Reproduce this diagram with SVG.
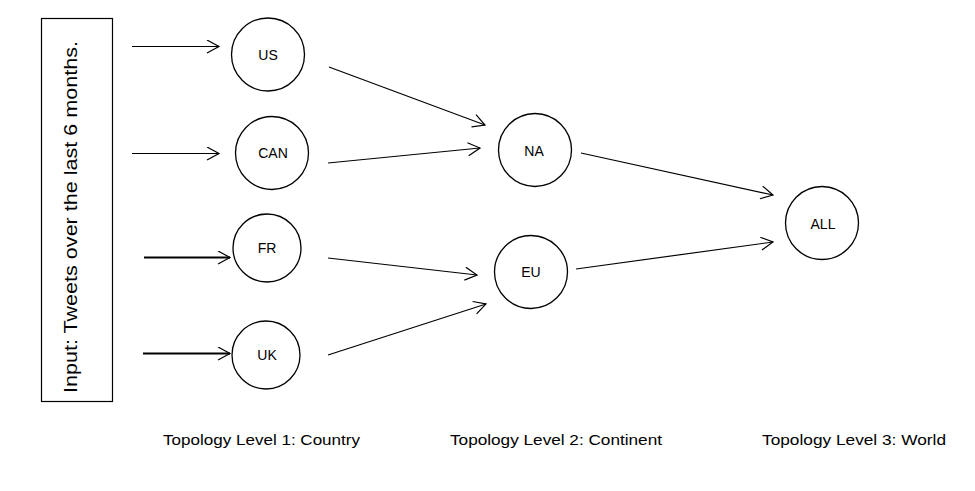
<svg xmlns="http://www.w3.org/2000/svg" width="975" height="491" viewBox="0 0 975 491">
<style>
.node{fill:#fff;stroke:#000;stroke-width:1.3}
.lbl{font-family:"Liberation Sans",Arial,sans-serif;font-size:14px;fill:#000;text-anchor:middle}
.cap{font-family:"Liberation Sans",Arial,sans-serif;font-size:15px;fill:#000}
.edge{stroke:#000;stroke-width:1.2;fill:none;marker-end:url(#arr)}
.thick{stroke-width:1.8}
</style>
<defs>
<marker id="arr" markerUnits="userSpaceOnUse" markerWidth="16" markerHeight="16" refX="13" refY="7" orient="auto">
<path d="M1,0.5 L13,7 L1,13.5" fill="none" stroke="#000" stroke-width="1.2"/>
</marker>
</defs>
<rect width="975" height="491" fill="#fff"/>
<g id="input">
<rect x="41.5" y="18.5" width="71" height="383" fill="#fff" stroke="#000" stroke-width="1.2"/>
<text transform="translate(77,393) rotate(-90)" font-family="Liberation Sans,Arial,sans-serif" font-size="19" textLength="352" lengthAdjust="spacingAndGlyphs">Input: Tweets over the last 6 months.</text>
</g>
<g id="connectors">
<line class="edge" x1="132" y1="46.5" x2="219" y2="46.5"/>
<line class="edge" x1="132" y1="153.5" x2="219" y2="153.5"/>
<line class="edge thick" x1="144" y1="257.5" x2="230" y2="257.5"/>
<line class="edge thick" x1="143" y1="353.5" x2="230" y2="353.5"/>
<line class="edge" x1="329" y1="67" x2="485" y2="125"/>
<line class="edge" x1="328" y1="163" x2="480" y2="148"/>
<line class="edge" x1="328" y1="258" x2="477" y2="275"/>
<line class="edge" x1="328" y1="355" x2="486" y2="304"/>
<line class="edge" x1="581" y1="153" x2="773" y2="195"/>
<line class="edge" x1="576" y1="269" x2="773" y2="242"/>
</g>
<g id="US"><circle class="node" cx="268" cy="54.5" r="36.5"/><text class="lbl" x="268" y="60">US</text></g>
<g id="CAN"><circle class="node" cx="272" cy="153" r="36.5"/><text class="lbl" x="273" y="158">CAN</text></g>
<g id="FR"><circle class="node" cx="267" cy="248" r="34"/><text class="lbl" x="267" y="253">FR</text></g>
<g id="UK"><circle class="node" cx="266" cy="355" r="34"/><text class="lbl" x="267" y="360">UK</text></g>
<g id="NA"><circle class="node" cx="535" cy="150" r="36.5"/><text class="lbl" x="534" y="156">NA</text></g>
<g id="EU"><circle class="node" cx="531" cy="272" r="36.5"/><text class="lbl" x="531" y="277">EU</text></g>
<g id="ALL"><circle class="node" cx="822" cy="223" r="36.5"/><text class="lbl" x="823" y="229">ALL</text></g>
<g id="captions">
<text class="cap" x="163" y="445" textLength="197" lengthAdjust="spacingAndGlyphs">Topology Level 1: Country</text>
<text class="cap" x="450" y="445" textLength="212" lengthAdjust="spacingAndGlyphs">Topology Level 2: Continent</text>
<text class="cap" x="762" y="445" textLength="184" lengthAdjust="spacingAndGlyphs">Topology Level 3: World</text>
</g>
</svg>
